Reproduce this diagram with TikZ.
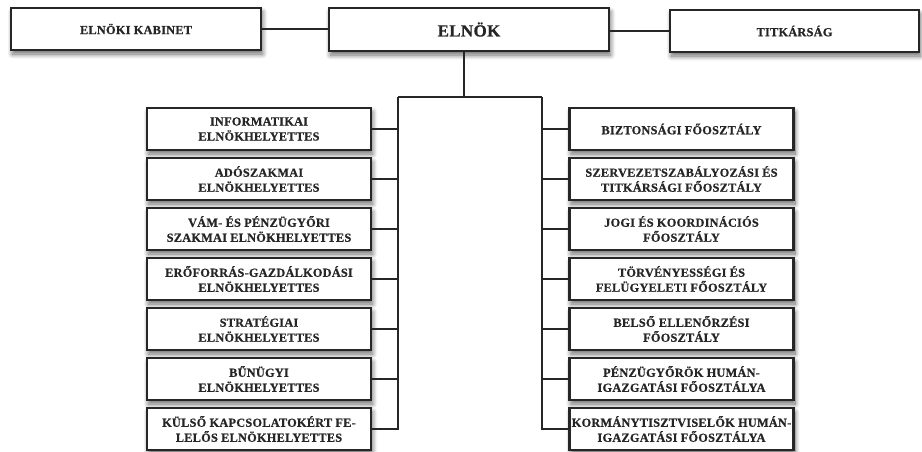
\documentclass[tikz,border=0pt]{standalone}
\usepackage{fontspec}
\setmainfont{Liberation Serif}
\newfontfamily\boxfont[LetterSpace=2, FakeBold=0.6]{Liberation Serif Bold}
\usetikzlibrary{shadows.blur}
\definecolor{ink}{HTML}{262626}
\tikzset{
  orgbox/.style={draw=ink, line width=2.5pt, fill=white, text=ink, align=center,
    font=\boxfont\fontsize{12.3}{15}\selectfont, inner sep=2pt,
    blur shadow={shadow xshift=1.5pt, shadow yshift=-4pt, shadow blur steps=10,
      shadow blur radius=5pt, shadow opacity=60}},
  sidebox/.style={orgbox, minimum width=224pt, minimum height=42pt},
  link/.style={draw=ink, line width=2pt}
}
\begin{document}
\begin{tikzpicture}[x=1pt, y=-1pt]
\useasboundingbox (0,0) rectangle (922,452);

% top row
\node[orgbox, minimum width=250pt, minimum height=42pt] (kab) at (136,29) {ELNÖKI KABINET};
\node[orgbox, minimum width=280pt, minimum height=43pt,
  font=\boxfont\fontsize{17}{19}\selectfont] (elnok) at (469,29.5) {ELNÖK};
\node[orgbox, minimum width=249pt, minimum height=42pt] (titk) at (794.5,31) {TITKÁRSÁG};

% deputy presidents (left column)
\node[sidebox] (l1) at (259,129) {INFORMATIKAI\\ELNÖKHELYETTES};
\node[sidebox] (l2) at (259,179) {ADÓSZAKMAI\\ELNÖKHELYETTES};
\node[sidebox] (l3) at (259,229) {VÁM- ÉS PÉNZÜGYŐRI\\SZAKMAI ELNÖKHELYETTES};
\node[sidebox] (l4) at (259,279) {ERŐFORRÁS-GAZDÁLKODÁSI\\ELNÖKHELYETTES};
\node[sidebox] (l5) at (259,329) {STRATÉGIAI\\ELNÖKHELYETTES};
\node[sidebox] (l6) at (259,379) {BŰNÜGYI\\ELNÖKHELYETTES};
\node[sidebox] (l7) at (259,429) {KÜLSŐ KAPCSOLATOKÉRT FE-\\LELŐS ELNÖKHELYETTES};

% departments (right column)
\node[sidebox] (r1) at (681.5,129) {BIZTONSÁGI FŐOSZTÁLY};
\node[sidebox] (r2) at (681.5,179) {SZERVEZETSZABÁLYOZÁSI ÉS\\TITKÁRSÁGI FŐOSZTÁLY};
\node[sidebox] (r3) at (681.5,229) {JOGI ÉS KOORDINÁCIÓS\\FŐOSZTÁLY};
\node[sidebox] (r4) at (681.5,279) {TÖRVÉNYESSÉGI ÉS\\FELÜGYELETI FŐOSZTÁLY};
\node[sidebox] (r5) at (681.5,329) {BELSŐ ELLENŐRZÉSI\\FŐOSZTÁLY};
\node[sidebox] (r6) at (681.5,379) {PÉNZÜGYŐRÖK HUMÁN-\\IGAZGATÁSI FŐOSZTÁLYA};
\node[sidebox] (r7) at (681.5,429) {KORMÁNYTISZTVISELŐK HUMÁN-\\IGAZGATÁSI FŐOSZTÁLYA};

% connectors
\coordinate (drop) at (464,97);
\coordinate (ltrunk) at (398,97);
\coordinate (rtrunk) at (542,97);

\draw[link] (kab.east) -- (elnok.west |- kab.east);
\draw[link] (elnok.east |- titk.west) -- (titk.west);
\draw[link] (drop |- elnok.south) -- (drop);
\draw[link] (ltrunk) -- (rtrunk);
\draw[link] (ltrunk) |- (l7.east);
\draw[link] (rtrunk) |- (r7.west);
\foreach \n in {1,...,6} {
  \draw[link] (ltrunk |- l\n.east) -- (l\n.east);
  \draw[link] (rtrunk |- r\n.west) -- (r\n.west);
}
\end{tikzpicture}
\end{document}
